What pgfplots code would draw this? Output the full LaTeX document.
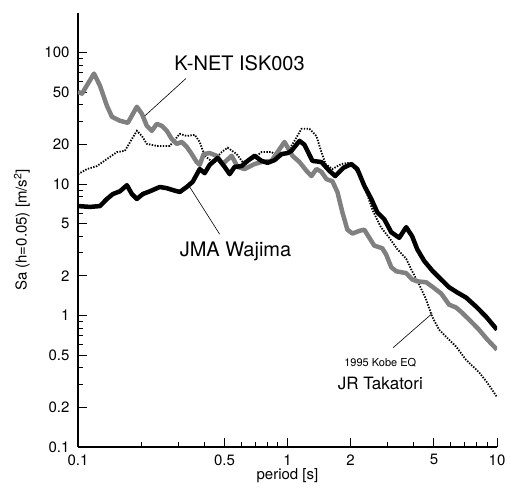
\documentclass[border=0pt]{standalone}
\usepackage{fontspec}
\setmainfont{TeX Gyre Heros}
\usepackage{pgfplots}
\pgfplotsset{compat=1.18}

\definecolor{knetgray}{gray}{0.5}

\begin{document}
\begin{tikzpicture}
\begin{axis}[
    name=ax,
    scale only axis,
    width=419pt, height=434pt,
    xmode=log, ymode=log,
    xmin=0.1, xmax=10, ymin=0.1, ymax=200,
    axis x line*=bottom, axis y line*=left,
    axis line style={line width=1.2pt, -},
    xtick={0.1,0.5,1,2,5,10},
    xticklabels={0.1,0.5,1,2,5,10},
    minor xtick={0.2,0.3,0.4,0.6,0.7,0.8,0.9,3,4,6,7,8,9},
    ytick={0.1,0.2,0.5,1,2,5,10,20,50,100},
    yticklabels={0.1,0.2,0.5,1,2,5,10,20,50,100},
    minor ytick={0.3,0.4,0.6,0.7,0.8,0.9,3,4,6,7,8,9,30,40,60,70,80,90},
    tick align=inside,
    major tick length=9pt, minor tick length=5pt,
    tick style={black, line width=0.9pt},
    tick label style={font=\fontsize{15}{18}\selectfont},
    yticklabel style={xshift=-5pt},
    xticklabel style={yshift=-4pt},
    xlabel={period [s]},
    ylabel={Sa (h=0.05) [m/s\textsuperscript{2}]},
    xlabel style={font=\fontsize{15}{18}\selectfont, at={(axis description cs:0.5,-0.067)}, anchor=center},
    ylabel style={font=\fontsize{15}{18}\selectfont, at={(axis description cs:-0.134,0.5)}, anchor=center},
]
% JR Takatori (1995 Kobe EQ)
\addplot[black, line width=1.8pt, dash pattern=on 1.4pt off 1.4pt] coordinates {
(0.1,11.9)(0.1104,13.0)(0.1232,13.7)(0.1374,15.5)(0.1534,17.5)(0.1675,17.9)(0.1808,22.0)(0.1910,25.4)
(0.2018,23.2)(0.2131,20.2)(0.2378,19.5)(0.2742,19.5)(0.3060,24.1)(0.3304,23.2)(0.3607,23.7)(0.3811,20.9)
(0.4025,16.4)(0.4394,14.7)(0.4850,17.5)(0.5179,18.9)(0.5718,16.9)(0.6106,14.7)(0.6813,15.5)(0.7519,17.5)
(0.8391,17.5)(0.9162,16.1)(1.0,17.5)(1.080,21.3)(1.166,26.3)(1.273,26.3)(1.374,23.2)(1.452,17.5)
(1.520,14.2)(1.638,13.0)(1.808,14.2)(1.973,14.5)(2.154,12.4)(2.350,9.2)(2.550,6.3)(2.790,4.7)
(3.060,3.9)(3.341,3.2)(3.687,2.7)(3.937,2.17)(4.252,1.72)(4.591,1.32)(4.904,0.98)(5.294,0.78)
(5.718,0.69)(6.381,0.58)(7.119,0.46)(8.208,0.37)(8.964,0.31)(10,0.24)
};
% K-NET ISK003
\addplot[knetgray, line width=4.5pt, line join=round] coordinates {
(0.100,50.4)(0.1045,48.7)(0.1192,69.2)(0.1273,56.0)(0.1374,39.4)(0.1452,32.5)(0.1585,30.3)(0.1730,29.2)
(0.1828,34.2)(0.1910,38.7)(0.2018,34.2)(0.2131,27.7)(0.2251,25.4)(0.2378,28.7)(0.2512,27.7)(0.2654,25.4)
(0.2804,22.0)(0.2962,20.2)(0.3128,20.9)(0.3304,19.2)(0.3491,16.9)(0.3687,14.7)(0.3811,14.0)(0.3981,16.9)
(0.4252,17.2)(0.4591,16.4)(0.4904,14.2)(0.5412,16.4)(0.5781,13.5)(0.6242,13.0)(0.6964,14.2)(0.7519,14.7)
(0.8391,15.0)(0.8964,17.5)(0.9676,20.9)(1.056,16.4)(1.141,14.7)(1.232,12.6)(1.301,11.5)(1.374,13.0)
(1.452,12.4)(1.534,10.9)(1.638,10.5)(1.731,8.7)(1.828,6.1)(1.931,4.5)(2.040,4.2)(2.202,4.4)
(2.326,4.5)(2.458,3.9)(2.596,3.4)(2.834,3.25)(2.960,2.9)(3.128,2.33)(3.304,2.17)(3.687,2.1)
(3.937,1.88)(4.159,1.82)(4.591,1.79)(4.904,1.66)(5.412,1.47)(5.907,1.21)(6.381,1.15)(6.813,1.05)
(7.519,0.90)(8.208,0.78)(8.964,0.66)(10,0.55)
};
% JMA Wajima
\addplot[black, line width=4.5pt, line join=round] coordinates {
(0.1,6.8)(0.1141,6.7)(0.1273,6.8)(0.1374,7.7)(0.1468,8.4)(0.1585,8.8)(0.1712,9.8)(0.1808,8.4)
(0.1910,7.7)(0.2039,8.4)(0.2202,8.8)(0.2458,9.5)(0.2654,9.3)(0.2835,9.0)(0.3060,8.7)(0.3304,9.5)
(0.3528,10.4)(0.3811,13.0)(0.4025,12.1)(0.4252,14.0)(0.4642,15.8)(0.5012,13.5)(0.5294,11.9)(0.5593,13.5)
(0.6040,13.7)(0.6451,15.0)(0.6964,16.4)(0.7519,15.0)(0.8031,14.5)(0.8672,15.2)(0.9363,16.9)(1.0,17.2)
(1.045,17.9)(1.141,21.3)(1.205,19.9)(1.315,15.0)(1.452,14.7)(1.585,12.6)(1.690,11.5)(1.850,13.3)
(2.017,14.2)(2.154,13.0)(2.326,9.7)(2.512,7.7)(2.683,6.1)(2.897,5.4)(3.128,4.3)(3.415,3.9)
(3.687,4.7)(3.937,4.0)(4.159,3.2)(4.492,2.6)(4.904,2.2)(5.412,1.88)(5.907,1.64)(6.451,1.50)
(7.119,1.37)(7.943,1.17)(8.866,0.98)(10,0.78)
};
% annotations
\draw[line width=0.6pt] (axis cs:0.3268,63.3) -- (axis cs:0.2085,33.0);
\draw[line width=0.6pt] (axis cs:0.3415,9.49) -- (axis cs:0.4747,4.15);
\draw[line width=0.6pt] (axis cs:3.196,0.570) -- (axis cs:4.9,1.035);
\node[font=\fontsize{20}{24}\selectfont] at (axis cs:0.5907,82.4) {K-NET ISK003};
\node[font=\fontsize{20}{24}\selectfont] at (axis cs:0.565,3.08) {JMA Wajima};
\node[font=\fontsize{11}{13}\selectfont] at (axis cs:2.773,0.438) {1995 Kobe EQ};
\node[font=\fontsize{17}{20}\selectfont] at (axis cs:2.773,0.303) {JR Takatori};
\end{axis}
\pgfresetboundingbox
\path ([xshift=-78pt,yshift=-42pt]ax.south west) rectangle ([xshift=20pt,yshift=13pt]ax.north east);
\end{tikzpicture}
\end{document}
